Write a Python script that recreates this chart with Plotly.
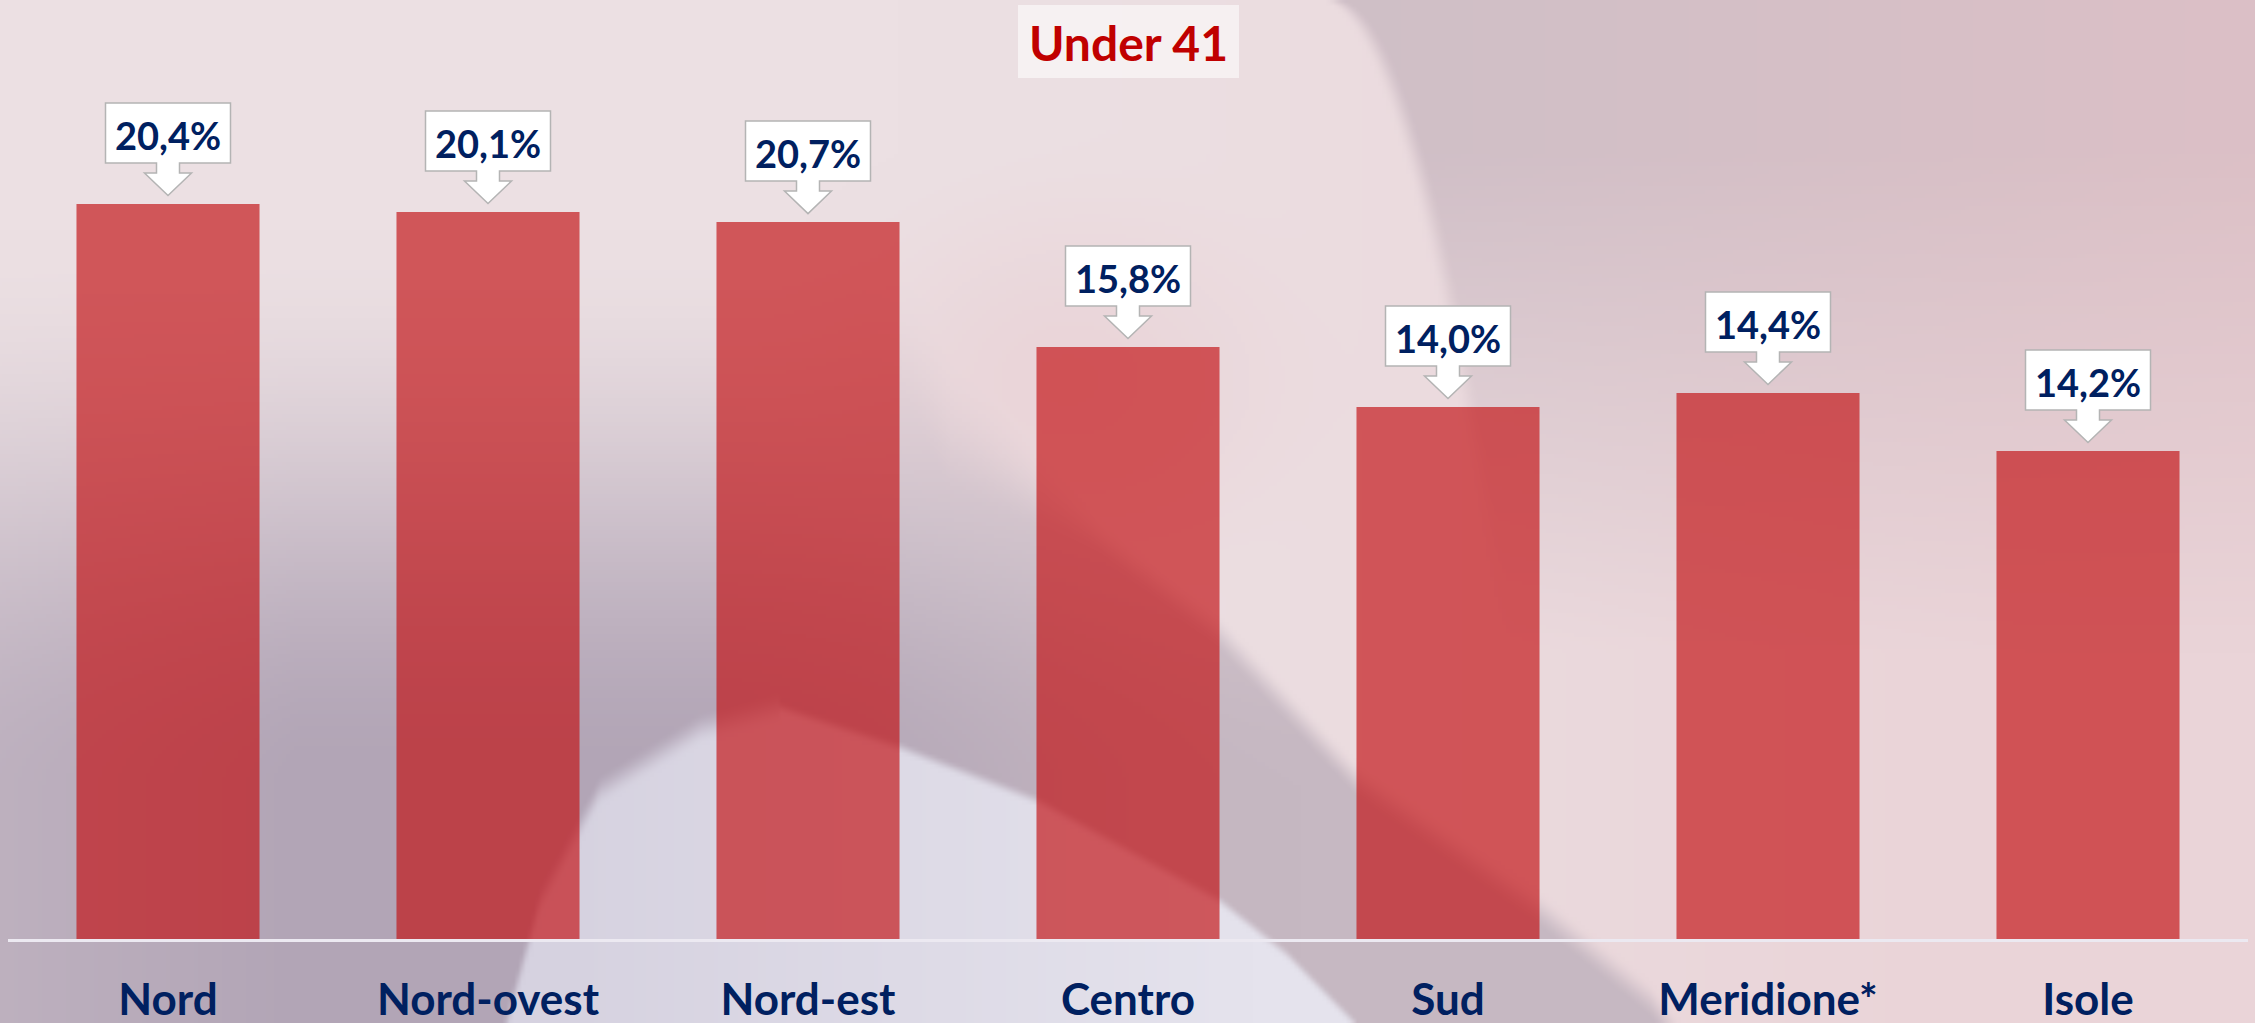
import base64
import struct
import zlib

import numpy as np
import plotly.graph_objects as go

# ---------------- data ----------------
categories = ["Nord", "Nord-ovest", "Nord-est", "Centro", "Sud", "Meridione*", "Isole"]
bar_values = [20.35, 20.13, 19.85, 16.39, 14.73, 15.12, 13.51]
label_texts = ["20,4%", "20,1%", "20,7%", "15,8%", "14,0%", "14,4%", "14,2%"]
title_text = "Under 41"

# ---------------- geometry ----------------
W, H = 2255, 1023
ML, MR, MT, MB = 8, 7, 0, 84
PW, PH = W - ML - MR, H - MT - MB


# ---------------- background image (decorative gradient) ----------------
def sstep(t):
    t = np.clip(t, 0.0, 1.0)
    return t * t * (3 - 2 * t)


def lerp(a, b, t):
    a = np.array(a, float)
    b = np.array(b, float)
    return a + (b - a) * t[..., None]


def blend(img, col, m):
    return img * (1 - m[..., None]) + col * m[..., None]


def make_background():
    s = 4
    w, h = W // s + 1, H // s + 1
    X = (np.arange(w) + 0.5) * W / w
    Y = (np.arange(h) + 0.5) * H / h
    X, Y = np.meshgrid(X, Y)

    img = lerp((236, 224, 227), (234, 212, 216), sstep((X - 900) / 1200))

    # upper-right mauve-grey region bounded by a curve
    xc = 1327 + 170 * np.sqrt(np.clip(Y / 577, 0, 2))
    mg = sstep((X - xc) / 24 + 0.5) * np.clip(1 - (Y - 150) / 500, 0, 1)
    colg = lerp((207, 191, 199), (220, 192, 198), np.clip((X - 1330) / 925, 0, 1))
    img = blend(img, colg, mg)

    # soft pink blob in the middle
    r = np.sqrt(((X - 1060) / 320) ** 2 + ((Y - 380) / 260) ** 2)
    mp = 0.45 * sstep(1 - r)
    img = blend(img, np.array([232, 200, 205], float), mp)

    # mauve lower-left region
    grad = sstep((Y - 230) / 560) * (0.8 + 0.2 * np.clip(X / 300, 0, 1))
    yb = np.interp(X, [0, 750, 950, 1100, 1220, 1355, 1536, 1650, 1800, 2255],
                   [0, 0, 420, 540, 633, 779, 907, 1000, 1200, 2000])
    wb = np.interp(X, [0, 750, 950, 1100, 2255], [300, 300, 160, 40, 40])
    edge = sstep((Y - yb) / wb + 0.5)
    mm = grad * edge
    colm = lerp((178, 165, 182), (198, 184, 194), sstep((X - 700) / 600))
    img = blend(img, colm, mm)

    # whitish lavender swoosh at the bottom
    ys = np.interp(X, [430, 540, 600, 700, 779, 900, 1036, 1219, 1287, 1355, 1500],
                   [1300, 900, 790, 728, 707, 747, 800, 900, 954, 1023, 1250])
    ws = np.where(X < 779, 35, 14)
    ms = sstep((Y - ys) / ws + 0.5)
    cols = lerp((214, 210, 224), (229, 227, 237), np.clip((X - 550) / 700, 0, 1))
    img = blend(img, cols, ms)

    arr = np.clip(img, 0, 255).astype(np.uint8)
    hh, ww, _ = arr.shape
    raw = b"".join(b"\x00" + arr[i].tobytes() for i in range(hh))

    def chunk(t, d):
        return struct.pack(">I", len(d)) + t + d + struct.pack(">I", zlib.crc32(t + d) & 0xFFFFFFFF)

    png = (b"\x89PNG\r\n\x1a\n"
           + chunk(b"IHDR", struct.pack(">IIBBBBB", ww, hh, 8, 2, 0, 0, 0))
           + chunk(b"IDAT", zlib.compress(raw, 9))
           + chunk(b"IEND", b""))
    return "data:image/png;base64," + base64.b64encode(png).decode()


bg_src = make_background()

# ---------------- figure ----------------
NAVY = "#002060"
RED = "#C00000"
FONT = "Lato"

fig = go.Figure()
fig.add_trace(go.Bar(
    x=categories,
    y=bar_values,
    marker=dict(color="rgba(193,12,16,0.65)", line=dict(width=0)),
    hoverinfo="skip",
))

# callout shapes (box + down arrow), sized in pixels, anchored at bar tops
callout_path = ("M -62.5,101 L 62.5,101 L 62.5,41 L 11.5,41 L 11.5,31 L 23.5,31 "
                "L 0,8.5 L -23.5,31 L -11.5,31 L -11.5,41 L -62.5,41 Z")
shapes = []
annotations = []
for cat, val, txt in zip(categories, bar_values, label_texts):
    shapes.append(dict(
        type="path", xref="x", yref="y", xsizemode="pixel", ysizemode="pixel",
        xanchor=cat, yanchor=val, path=callout_path,
        fillcolor="white", line=dict(color="#b4b4b4", width=1.5), layer="above",
    ))
    annotations.append(dict(
        x=cat, y=val, xref="x", yref="y", yshift=69, showarrow=False,
        text=txt, yanchor="middle", xanchor="center",
        font=dict(family=FONT, size=38, color=NAVY, weight="bold"),
    ))

# title box and text
shapes.append(dict(
    type="rect", xref="paper", yref="paper",
    x0=(1018 - ML) / PW, x1=(1239 - ML) / PW,
    y0=1 - 78 / PH, y1=1 - 5 / PH,
    fillcolor="rgba(255,255,255,0.55)", line=dict(width=0), layer="below",
))
annotations.append(dict(
    x=0.5, y=1 - 42 / PH, xref="paper", yref="paper", showarrow=False,
    text=title_text, xanchor="center", yanchor="middle",
    font=dict(family=FONT, size=48, color=RED, weight="bold"),
))

fig.update_layout(
    template="none",
    width=W, height=H,
    margin=dict(l=ML, r=MR, t=MT, b=MB, pad=0),
    paper_bgcolor="rgba(0,0,0,0)",
    plot_bgcolor="rgba(0,0,0,0)",
    showlegend=False,
    bargap=0.428,
    shapes=shapes,
    annotations=annotations,
    images=[dict(
        source=bg_src, xref="paper", yref="paper",
        x=-ML / PW, y=1 + MT / PH, sizex=W / PW, sizey=H / PH,
        xanchor="left", yanchor="top", sizing="stretch", layer="below",
    )],
    xaxis=dict(
        range=[-0.5, 6.5], showgrid=False, zeroline=False, ticks="",
        showline=True, linecolor="#ece9f1", linewidth=3,
        tickfont=dict(family=FONT, size=44, color=NAVY, weight="bold"),
        ticklabelstandoff=20, automargin=False, fixedrange=True,
    ),
    yaxis=dict(
        range=[0, 26], visible=False, showgrid=False, zeroline=False,
        automargin=False, fixedrange=True,
    ),
)

fig.write_html(
    "out.html",
    config={"displayModeBar": False},
    post_script="document.body.style.margin='0';document.body.style.overflow='hidden';",
)
